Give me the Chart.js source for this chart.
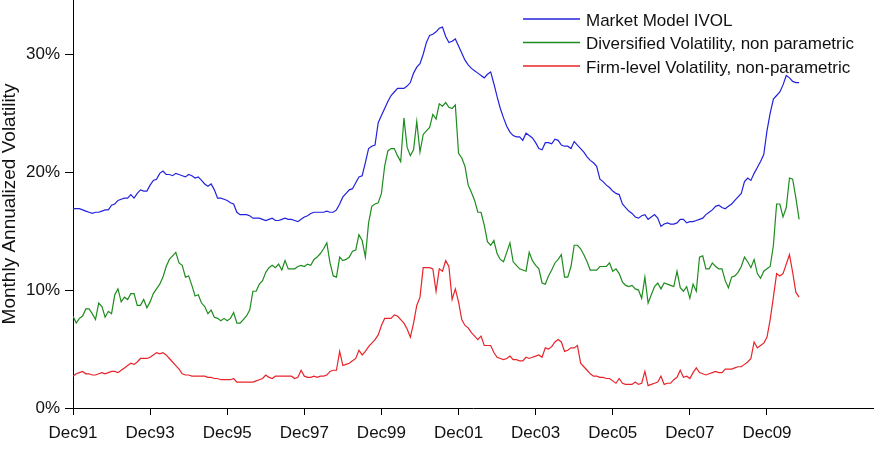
<!DOCTYPE html>
<html>
<head>
<meta charset="utf-8">
<script src="https://cdn.jsdelivr.net/npm/chart.js@4"></script>
<style>
  html, body { margin: 0; padding: 0; background: #fff; }
  #chart { display: block; }
</style>
</head>
<body>
<canvas id="chart" width="878" height="450"></canvas>
<script>
// x axis: one point per month, index 0 = Dec91
const tickLabels = ["Dec91", "Dec93", "Dec95", "Dec97", "Dec99", "Dec01", "Dec03", "Dec05", "Dec07", "Dec09"];
const monthsPerTick = 24;
const xMax = 249;
const yTicks = [0, 10, 20, 30];
const yMax = 34.6;

const seriesNames = [
  "Market Model IVOL",
  "Diversified Volatility, non parametric",
  "Firm-level Volatility, non-parametric"
];

// monthly values in %, Dec91 .. Oct10
const marketIvol = [
  16.9,16.9,16.9,16.8,16.7,16.6,16.5,16.6,16.6,16.7,16.8,16.8,
  17.2,17.3,17.6,17.7,17.8,17.8,18.1,17.8,18.2,18.5,18.4,18.4,
  18.9,19.3,19.4,19.9,20.1,19.8,19.8,19.7,19.9,19.8,19.7,19.6,
  19.8,19.7,19.5,19.6,19.3,19.0,18.8,19.0,18.5,17.8,17.8,17.7,
  17.6,17.4,17.3,16.6,16.4,16.4,16.4,16.3,16.1,16.1,16.1,16.0,
  15.9,16.0,16.1,15.9,15.9,16.0,16.1,16.0,16.0,15.9,15.8,16.0,
  16.2,16.3,16.5,16.6,16.6,16.6,16.6,16.7,16.6,16.6,16.8,17.3,
  17.9,18.2,18.5,18.6,19.1,19.6,19.7,20.8,22.0,22.2,22.3,24.2,
  24.8,25.4,26.0,26.5,26.8,27.1,27.1,27.1,27.3,27.6,28.4,28.9,
  29.2,30.0,31.0,31.6,31.7,31.9,32.2,32.3,31.5,31.0,31.1,31.3,
  30.7,30.1,29.5,29.1,28.8,28.6,28.4,28.2,28.0,28.3,28.5,27.5,
  26.4,25.4,24.6,23.9,23.4,23.1,23.0,23.0,22.7,23.3,23.1,22.9,
  22.5,22.0,21.9,22.5,22.5,22.4,22.8,22.7,22.3,22.2,22.2,22.0,
  22.6,22.3,22.0,21.7,21.3,21.0,20.8,20.5,19.4,19.2,18.9,18.7,
  18.4,18.2,18.1,17.3,17.0,16.7,16.5,16.2,16.1,16.3,16.4,16.0,
  16.2,16.4,16.1,15.4,15.6,15.7,15.6,15.6,15.7,16.0,16.0,15.7,
  15.8,15.8,15.9,16.0,16.1,16.4,16.6,16.8,17.1,17.2,17.0,16.9,
  17.1,17.3,17.6,17.9,18.2,19.2,19.5,19.3,19.9,20.4,20.9,21.5,
  23.5,25.0,26.2,26.5,26.8,27.4,28.2,28.0,27.7,27.6,27.6
];

const diversifiedVol = [
  7.8,7.2,7.6,7.8,8.4,8.4,8.0,7.5,8.9,8.6,7.7,8.2,
  8.0,9.6,10.1,9.0,9.4,9.2,9.7,9.7,8.7,8.7,9.2,8.5,
  9.0,9.7,10.1,10.5,11.1,12.0,12.6,12.9,13.2,12.3,12.1,11.1,
  11.2,10.4,9.5,9.6,8.9,8.6,8.0,8.3,7.7,7.6,7.4,7.6,
  7.4,7.6,8.1,7.2,7.2,7.5,7.8,8.3,9.9,9.9,10.5,10.8,
  11.5,11.9,12.1,11.9,12.2,11.7,12.5,11.8,11.8,11.8,12.0,12.1,
  12.0,12.2,12.1,12.6,12.8,13.1,13.5,14.0,12.3,11.2,11.1,12.8,
  12.5,12.6,12.8,13.3,13.4,14.7,14.2,12.8,15.7,17.1,17.3,17.4,
  18.2,20.5,21.8,22.0,22.0,21.4,20.9,24.6,22.1,21.4,21.9,24.3,
  21.7,23.2,23.5,23.8,24.9,24.5,25.8,25.6,25.9,25.5,25.4,25.7,
  21.6,21.2,20.5,18.9,18.3,17.6,16.6,16.6,15.5,14.1,13.8,14.2,
  13.1,12.6,12.4,13.2,14.0,12.4,12.1,11.8,11.7,11.6,13.2,12.5,
  12.1,11.8,10.6,10.5,11.2,11.7,12.3,12.6,13.0,11.1,11.1,12.0,
  13.8,13.8,13.5,13.0,12.4,11.7,11.7,11.7,12.0,12.0,12.0,12.3,
  11.6,11.8,11.4,10.7,10.4,10.3,10.4,10.1,10.0,9.3,11.1,8.9,
  9.6,10.3,10.6,10.1,10.6,10.5,10.4,10.3,11.6,10.2,9.9,10.3,
  9.3,10.5,9.9,12.8,12.9,11.8,11.8,12.3,12.0,11.8,11.8,10.8,
  10.2,11.1,11.2,11.5,12.0,12.8,12.4,11.9,12.6,11.4,11.0,11.6,
  11.8,12.0,13.8,17.3,17.3,16.2,17.0,19.5,19.4,17.8,16.0
];

const firmVol = [
  2.7,2.9,3.0,3.1,2.9,2.9,2.8,2.8,2.9,3.0,2.9,3.0,
  3.1,3.1,3.0,3.2,3.4,3.6,3.8,3.7,3.9,4.2,4.2,4.2,
  4.3,4.5,4.7,4.6,4.7,4.5,4.2,3.9,3.6,3.3,2.9,2.8,
  2.8,2.7,2.7,2.7,2.7,2.7,2.6,2.6,2.5,2.5,2.4,2.4,
  2.4,2.4,2.5,2.2,2.2,2.2,2.2,2.2,2.2,2.3,2.4,2.5,
  2.8,2.6,2.5,2.7,2.7,2.7,2.7,2.7,2.7,2.5,2.6,3.2,
  2.7,2.6,2.6,2.7,2.6,2.7,2.7,2.8,3.1,3.2,3.2,4.8,
  3.6,3.7,3.8,4.0,4.2,4.9,4.5,4.8,5.2,5.5,5.8,6.2,
  7.0,7.6,7.6,7.6,7.9,7.8,7.5,7.2,6.7,6.0,7.2,8.7,
  9.4,11.9,11.9,11.9,11.8,9.9,11.8,11.6,12.5,12.0,9.2,10.1,
  9.0,7.5,7.0,6.8,6.4,6.1,5.8,6.1,5.3,5.3,5.3,4.7,
  4.3,4.2,4.1,4.2,4.4,4.1,4.1,4.0,4.0,4.3,4.2,4.3,
  4.4,4.5,4.3,5.1,5.0,5.2,5.6,5.8,5.6,4.8,4.9,5.1,
  5.1,5.3,3.8,3.5,3.2,2.9,2.7,2.7,2.6,2.6,2.5,2.5,
  2.3,2.1,2.5,2.1,2.0,2.0,2.0,2.2,2.0,2.1,3.1,1.9,
  2.0,2.1,2.2,2.7,2.0,2.1,2.1,2.4,2.6,3.2,2.6,2.7,
  2.5,3.0,3.4,3.0,2.9,2.8,2.9,3.0,3.1,3.0,3.0,3.3,
  3.3,3.3,3.4,3.5,3.5,3.7,3.9,4.2,5.6,5.1,5.3,5.5,
  6.0,7.5,9.4,11.4,11.2,11.4,12.2,13.0,11.5,9.8,9.4
];

const colors = ["#2222dd", "#1e8c1e", "#e8242a"];
const fontFamily = '"Liberation Sans", Arial, sans-serif';

function toPoints(values) {
  return values.map((v, i) => ({ x: i, y: v }));
}

// legend drawn inside the plot, top right
const insideLegend = {
  id: "insideLegend",
  afterDraw(chart) {
    const ctx = chart.ctx;
    const area = chart.chartArea;
    const x0 = area.right - 350;
    ctx.save();
    ctx.font = "17px " + fontFamily;
    ctx.textBaseline = "middle";
    ctx.textAlign = "left";
    chart.data.datasets.forEach((ds, i) => {
      const y = area.top + 19 + i * 23.5;
      ctx.strokeStyle = ds.borderColor;
      ctx.lineWidth = 1.3;
      ctx.beginPath();
      ctx.moveTo(x0, y);
      ctx.lineTo(x0 + 57, y);
      ctx.stroke();
      ctx.fillStyle = "#111";
      ctx.fillText(ds.label, x0 + 63, y + 2);
    });
    ctx.restore();
  }
};

new Chart(document.getElementById("chart"), {
  type: "line",
  data: {
    datasets: [
      { label: seriesNames[0], data: toPoints(marketIvol), borderColor: colors[0] },
      { label: seriesNames[1], data: toPoints(diversifiedVol), borderColor: colors[1] },
      { label: seriesNames[2], data: toPoints(firmVol), borderColor: colors[2] }
    ]
  },
  options: {
    responsive: false,
    animation: false,
    devicePixelRatio: 1,
    layout: { padding: { left: 0, top: 0, right: 5, bottom: 0 } },
    elements: {
      line: { borderWidth: 1.2, tension: 0, fill: false },
      point: { radius: 0 }
    },
    plugins: {
      legend: { display: false },
      tooltip: { enabled: false }
    },
    scales: {
      x: {
        type: "linear",
        min: 0,
        max: xMax,
        border: { display: true, color: "#000", width: 1 },
        grid: { display: true, drawOnChartArea: false, drawTicks: true, tickLength: 7, color: "#000" },
        ticks: {
          color: "#111",
          font: { family: fontFamily, size: 17 },
          padding: 8,
          maxRotation: 0,
          autoSkip: false,
          callback: (v) => tickLabels[v / monthsPerTick]
        },
        afterBuildTicks: (scale) => {
          scale.ticks = tickLabels.map((_, k) => ({ value: k * monthsPerTick }));
        },
        afterFit: (scale) => {
          scale.height = 42;
          scale.paddingLeft = 0;
          scale.paddingRight = 0;
        }
      },
      y: {
        min: 0,
        max: yMax,
        border: { display: true, color: "#000", width: 1 },
        grid: { display: true, drawOnChartArea: false, drawTicks: true, tickLength: 8, color: "#000" },
        ticks: {
          color: "#111",
          font: { family: fontFamily, size: 17 },
          padding: 5,
          callback: (v) => v + "%"
        },
        afterBuildTicks: (scale) => {
          scale.ticks = yTicks.map((v) => ({ value: v }));
        },
        title: {
          display: true,
          text: "Monthly Annualized Volatility",
          color: "#111",
          font: { family: fontFamily, size: 19, lineHeight: 1 },
          padding: 0
        },
        afterFit: (scale) => {
          scale.width = 73;
          scale.paddingTop = 0;
          scale.paddingBottom = 0;
        }
      }
    }
  },
  plugins: [insideLegend]
});
</script>
</body>
</html>
